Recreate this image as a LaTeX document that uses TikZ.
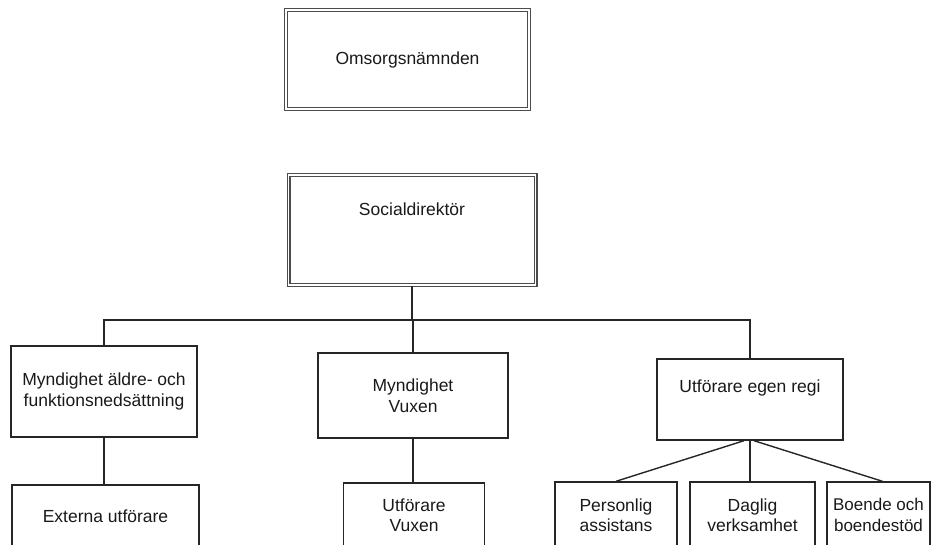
\documentclass[tikz,border=0pt]{standalone}
\usepackage{fontspec}
\setmainfont{Liberation Sans}
\begin{document}
\begin{tikzpicture}[x=1pt,y=-1pt,
  txt/.style={font=\fontsize{17.5}{20.5}\selectfont, text=black!90},
  box/.style={txt, draw=black!85, line width=1.4pt, inner sep=0pt, align=center},
  dbox/.style={box, draw=black!70, double=white, double distance=1.6pt, line width=1.2pt},
  conn/.style={draw=black!85, line width=1.4pt}]
\useasboundingbox (0,0) rectangle (940,544);
\clip (0,0) rectangle (940,544);
% top
\node[dbox, minimum width=243, minimum height=99] (omn) at (407.5,59.5) {Omsorgsnämnden};
\node[dbox, minimum width=247, minimum height=110,
  label={[txt, anchor=center, yshift=-35pt]north:Socialdirektör}] (soc) at (412,230) {};
% middle level
\node[box, minimum width=186, minimum height=91] (m1) at (104,391.5) {Myndighet äldre- och\\funktionsnedsättning};
\node[box, minimum width=190, minimum height=85] (m2) at (413,395.5) {Myndighet\\Vuxen};
\node[box, minimum width=186, minimum height=81,
  label={[txt, anchor=center, yshift=-30pt]north:Utförare egen regi}] (m3) at (750,399.5) {};
% bottom level
\node[box, minimum width=187, minimum height=62] (ext) at (105.5,516) {Externa utförare};
\node[box, minimum width=141, minimum height=64] (uv) at (414,515) {Utförare\\Vuxen};
\node[box, minimum width=122, minimum height=66] (pa) at (616,515) {Personlig\\assistans};
\node[box, minimum width=125, minimum height=66] (dv) at (752.5,515) {Daglig\\verksamhet};
\node[box, minimum width=103, minimum height=66, font=\fontsize{17}{20.5}\selectfont] (bo) at (878.5,515) {Boende och\\boendestöd};
% connectors
\coordinate (bus) at (412,320);
\draw[conn] (soc.south) -- (soc.south |- bus);
\draw[conn] (m1.north) -- (m1.north |- bus) -- (m3.north |- bus) -- (m3.north);
\draw[conn] (m2.north |- bus) -- (m2.north);
\draw[conn] (m1.south) -- (m1.south |- ext.north);
\draw[conn] (m2.south) -- (m2.south |- uv.north);
\draw[conn] ([xshift=-6pt]m3.south) -- (pa.north);
\draw[conn] (m3.south) -- (m3.south |- dv.north);
\draw[conn] ([xshift=4pt]m3.south) -- ([xshift=4pt]bo.north);
\end{tikzpicture}
\end{document}
